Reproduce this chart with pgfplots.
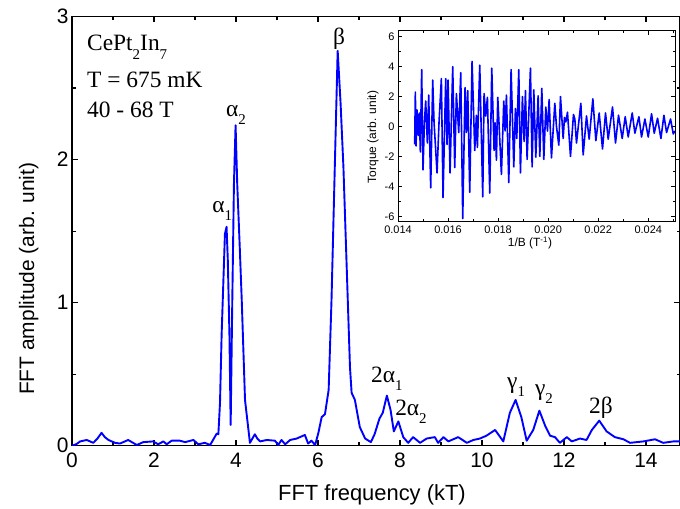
\documentclass[border=0pt]{standalone}
\usepackage{fontspec}
\setmainfont{Liberation Sans}
\newfontfamily\tms{Liberation Serif}
\usepackage{pgfplots}
\pgfplotsset{compat=1.18}
\definecolor{lineblue}{RGB}{0,0,255}
\newcommand{\sub}[2][-9bp]{\raisebox{#1}{\fontsize{15}{15}\selectfont #2}}
\newcommand{\ann}{\tms\fontsize{23.5}{23.5}\selectfont}

\pgfplotstableread{
x y
0.00 0.00
0.10 0.01
0.20 0.03
0.36 0.04
0.52 0.02
0.62 0.05
0.72 0.09
0.80 0.06
0.89 0.04
1.05 0.02
1.17 0.015
1.37 0.04
1.58 0.005
1.74 0.025
1.98 0.03
2.10 0.01
2.23 0.03
2.31 0.01
2.43 0.035
2.63 0.035
2.76 0.025
2.96 0.04
3.08 0.01
3.24 0.02
3.37 0.005
3.45 0.045
3.53 0.085
3.57 0.08
3.61 0.30
3.65 0.78
3.73 1.48
3.77 1.53
3.80 1.30
3.84 0.78
3.87 0.145
3.91 1.02
3.95 1.83
3.99 2.24
4.03 1.83
4.09 1.40
4.14 1.02
4.22 0.32
4.34 0.02
4.40 0.05
4.46 0.08
4.52 0.05
4.59 0.03
4.75 0.04
4.95 0.035
5.03 0.005
5.11 0.04
5.20 0.01
5.32 0.04
5.48 0.05
5.68 0.075
5.76 0.015
5.84 0.035
5.93 0.005
6.01 0.09
6.09 0.20
6.17 0.22
6.26 0.39
6.33 1.02
6.41 1.95
6.48 2.76
6.55 2.40
6.62 1.95
6.70 1.25
6.78 0.55
6.82 0.37
6.90 0.32
7.02 0.13
7.15 0.05
7.29 0.025
7.38 0.08
7.50 0.19
7.58 0.23
7.68 0.35
7.77 0.25
7.85 0.10
7.96 0.17
8.08 0.06
8.20 0.02
8.32 0.06
8.49 0.02
8.65 0.05
8.85 0.06
8.93 0.02
9.06 0.06
9.18 0.03
9.42 0.06
9.63 0.02
9.79 0.04
9.95 0.05
10.11 0.07
10.32 0.11
10.52 0.03
10.68 0.23
10.82 0.32
10.96 0.20
11.09 0.035
11.25 0.11
11.40 0.245
11.54 0.14
11.66 0.07
11.78 0.06
11.90 0.02
12.07 0.06
12.19 0.03
12.39 0.05
12.55 0.04
12.68 0.11
12.86 0.175
13.04 0.10
13.24 0.06
13.45 0.045
13.61 0.02
13.94 0.03
14.22 0.045
14.42 0.02
14.67 0.03
14.83 0.03
}\fft

\pgfplotstableread{
x y
0.014667 -1.2
0.014693 2.3
0.014720 -1.3
0.014760 1.1
0.014813 -0.6
0.014853 0.9
0.014893 -1.7
0.014947 3.8
0.015000 -2.9
0.015053 0.2
0.015107 1.7
0.015173 -1.1
0.015227 2.1
0.015307 -4.1
0.015387 3.1
0.015440 0.3
0.015560 -3.1
0.015640 0.3
0.015733 3.2
0.015800 -4.75
0.015907 3.2
0.015960 -1.2
0.016000 3.1
0.016080 -3.1
0.016187 4.0
0.016267 -2.75
0.016333 2.2
0.016427 -0.4
0.016507 3.6
0.016587 -6.15
0.016680 2.6
0.016733 -0.4
0.016787 2.4
0.016867 -4.4
0.016960 4.35
0.017067 -1.6
0.017133 0.75
0.017173 -1.4
0.017267 4.1
0.017387 -4.7
0.017440 2.2
0.017507 0.7
0.017573 1.95
0.017667 -4.45
0.017747 3.9
0.017840 -1.6
0.017880 0.25
0.017933 -2.25
0.017987 1.95
0.018133 -3.2
0.018227 1.7
0.018280 -0.3
0.018333 2.1
0.018427 -3.75
0.018520 3.8
0.018627 -2.7
0.018693 1.2
0.018747 -0.8
0.018827 3.8
0.018893 -3.1
0.018973 2.0
0.019040 -1.0
0.019093 2.4
0.019160 -2.2
0.019293 3.9
0.019360 -2.7
0.019427 2.45
0.019507 -2.05
0.019600 2.05
0.019667 -2.0
0.019747 2.55
0.019827 -2.2
0.019907 1.3
0.019973 -0.3
0.020040 1.8
0.020133 -2.1
0.020267 1.55
0.020333 0.0
0.020427 -1.25
0.020493 2.0
0.020600 -0.8
0.020653 0.6
0.020707 0.3
0.020773 0.95
0.020893 -2.0
0.021013 0.8
0.021067 0.5
0.021133 -1.1
0.021307 1.55
0.021400 -1.9
0.021533 0.7
0.021640 -0.85
0.021787 1.85
0.021907 -0.95
0.022040 0.9
0.022173 -1.5
0.022293 0.9
0.022400 -0.85
0.022573 1.3
0.022693 -1.1
0.022813 0.75
0.022960 -0.8
0.023080 0.65
0.023200 -0.7
0.023360 0.9
0.023467 -0.45
0.023627 0.65
0.023733 -0.7
0.023867 0.5
0.024000 -0.7
0.024133 0.85
0.024240 -0.45
0.024373 0.55
0.024507 -0.8
0.024627 0.75
0.024733 -0.4
0.024893 0.5
0.025000 -0.5
0.025067 -0.3
}\torque

\begin{document}
\begin{tikzpicture}
\begin{axis}[
  at={(0bp,0bp)}, anchor=south west,
  scale only axis, width=608bp, height=429.2bp,
  xmin=0, xmax=14.83, ymin=0, ymax=3,
  xtick={0,2,4,6,8,10,12,14}, minor xtick={1,3,5,7,9,11,13},
  ytick={0,1,2,3}, minor ytick={0.5,1.5,2.5},
  tick align=inside,
  major tick length=6bp, minor tick length=3.5bp,
  axis line style={line width=1.2bp},
  every tick/.style={black, line width=1.1bp},
  tick label style={font=\fontsize{21}{21}\selectfont},
  xticklabel style={yshift=-4bp},
  /pgf/number format/assume math mode=true,
]
\addplot[lineblue, line width=1.9bp, line join=round] table[x=x,y=y]{\fft};

\node[anchor=base west, inner sep=0pt] at (axis cs:0.366,2.762) {\ann CePt\sub{2}In\sub{7}};
\node[anchor=base west, inner sep=0pt] at (axis cs:0.366,2.504) {\ann T = 675 mK};
\node[anchor=base west, inner sep=0pt] at (axis cs:0.366,2.294) {\ann 40 - 68 T};
\node[anchor=base west, inner sep=0pt] at (axis cs:3.756,2.30) {\ann α\sub[-8bp]{2}};
\node[anchor=base west, inner sep=0pt] at (axis cs:3.42,1.63) {\ann α\sub[-8bp]{1}};
\node[anchor=base west, inner sep=0pt] at (axis cs:6.366,2.805) {\ann β};
\node[anchor=base west, inner sep=0pt] at (axis cs:7.29,0.445) {\ann 2α\sub[-8bp]{1}};
\node[anchor=base west, inner sep=0pt] at (axis cs:7.88,0.214) {\ann 2α\sub[-8bp]{2}};
\node[anchor=base west, inner sep=0pt] at (axis cs:10.61,0.40) {\ann γ\sub[-8bp]{1}};
\node[anchor=base west, inner sep=0pt] at (axis cs:11.29,0.354) {\ann γ\sub[-8bp]{2}};
\node[anchor=base west, inner sep=0pt] at (axis cs:12.61,0.228) {\ann 2β};
\end{axis}

\node[anchor=base west, inner sep=0pt, font=\fontsize{22}{22}\selectfont] at (206bp,-54.3bp) {FFT frequency (kT)};
\node[rotate=90, anchor=base west, inner sep=0pt, font=\fontsize{21}{21}\selectfont] at (-38bp,50.7bp) {FFT amplitude (arb. unit)};

\begin{axis}[
  at={(326bp,223.7bp)}, anchor=south west,
  scale only axis, width=277bp, height=191bp,
  xmin=0.014, xmax=0.02507, ymin=-6.38, ymax=6.38,
  xtick={0.014,0.016,0.018,0.020,0.022,0.024},
  xticklabels={0.014,0.016,0.018,0.020,0.022,0.024},
  minor xtick={0.015,0.017,0.019,0.021,0.023,0.025},
  ytick={-6,-4,-2,0,2,4,6}, minor ytick={-5,-3,-1,1,3,5},
  scaled x ticks=false,
  tick align=inside,
  major tick length=4bp, minor tick length=2.5bp,
  axis line style={line width=1bp},
  every tick/.style={black, line width=0.9bp},
  tick label style={font=\fontsize{11}{11}\selectfont},
  /pgf/number format/assume math mode=true,
  axis background/.style={fill=white},
]
\addplot[lineblue, line width=1.6bp, line join=round] table[x=x,y=y]{\torque};
\end{axis}

\node[rotate=90, anchor=base, inner sep=0pt, font=\fontsize{12}{12}\selectfont] at (304bp,308.7bp) {Torque (arb. unit)};
\node[anchor=base, inner sep=0pt, font=\fontsize{12}{12}\selectfont] at (458bp,199bp) {1/B (T\textsuperscript{-1})};

\pgfresetboundingbox
\path[use as bounding box] (-72bp,-63.3bp) rectangle (608bp,445.7bp);
\end{tikzpicture}
\end{document}
